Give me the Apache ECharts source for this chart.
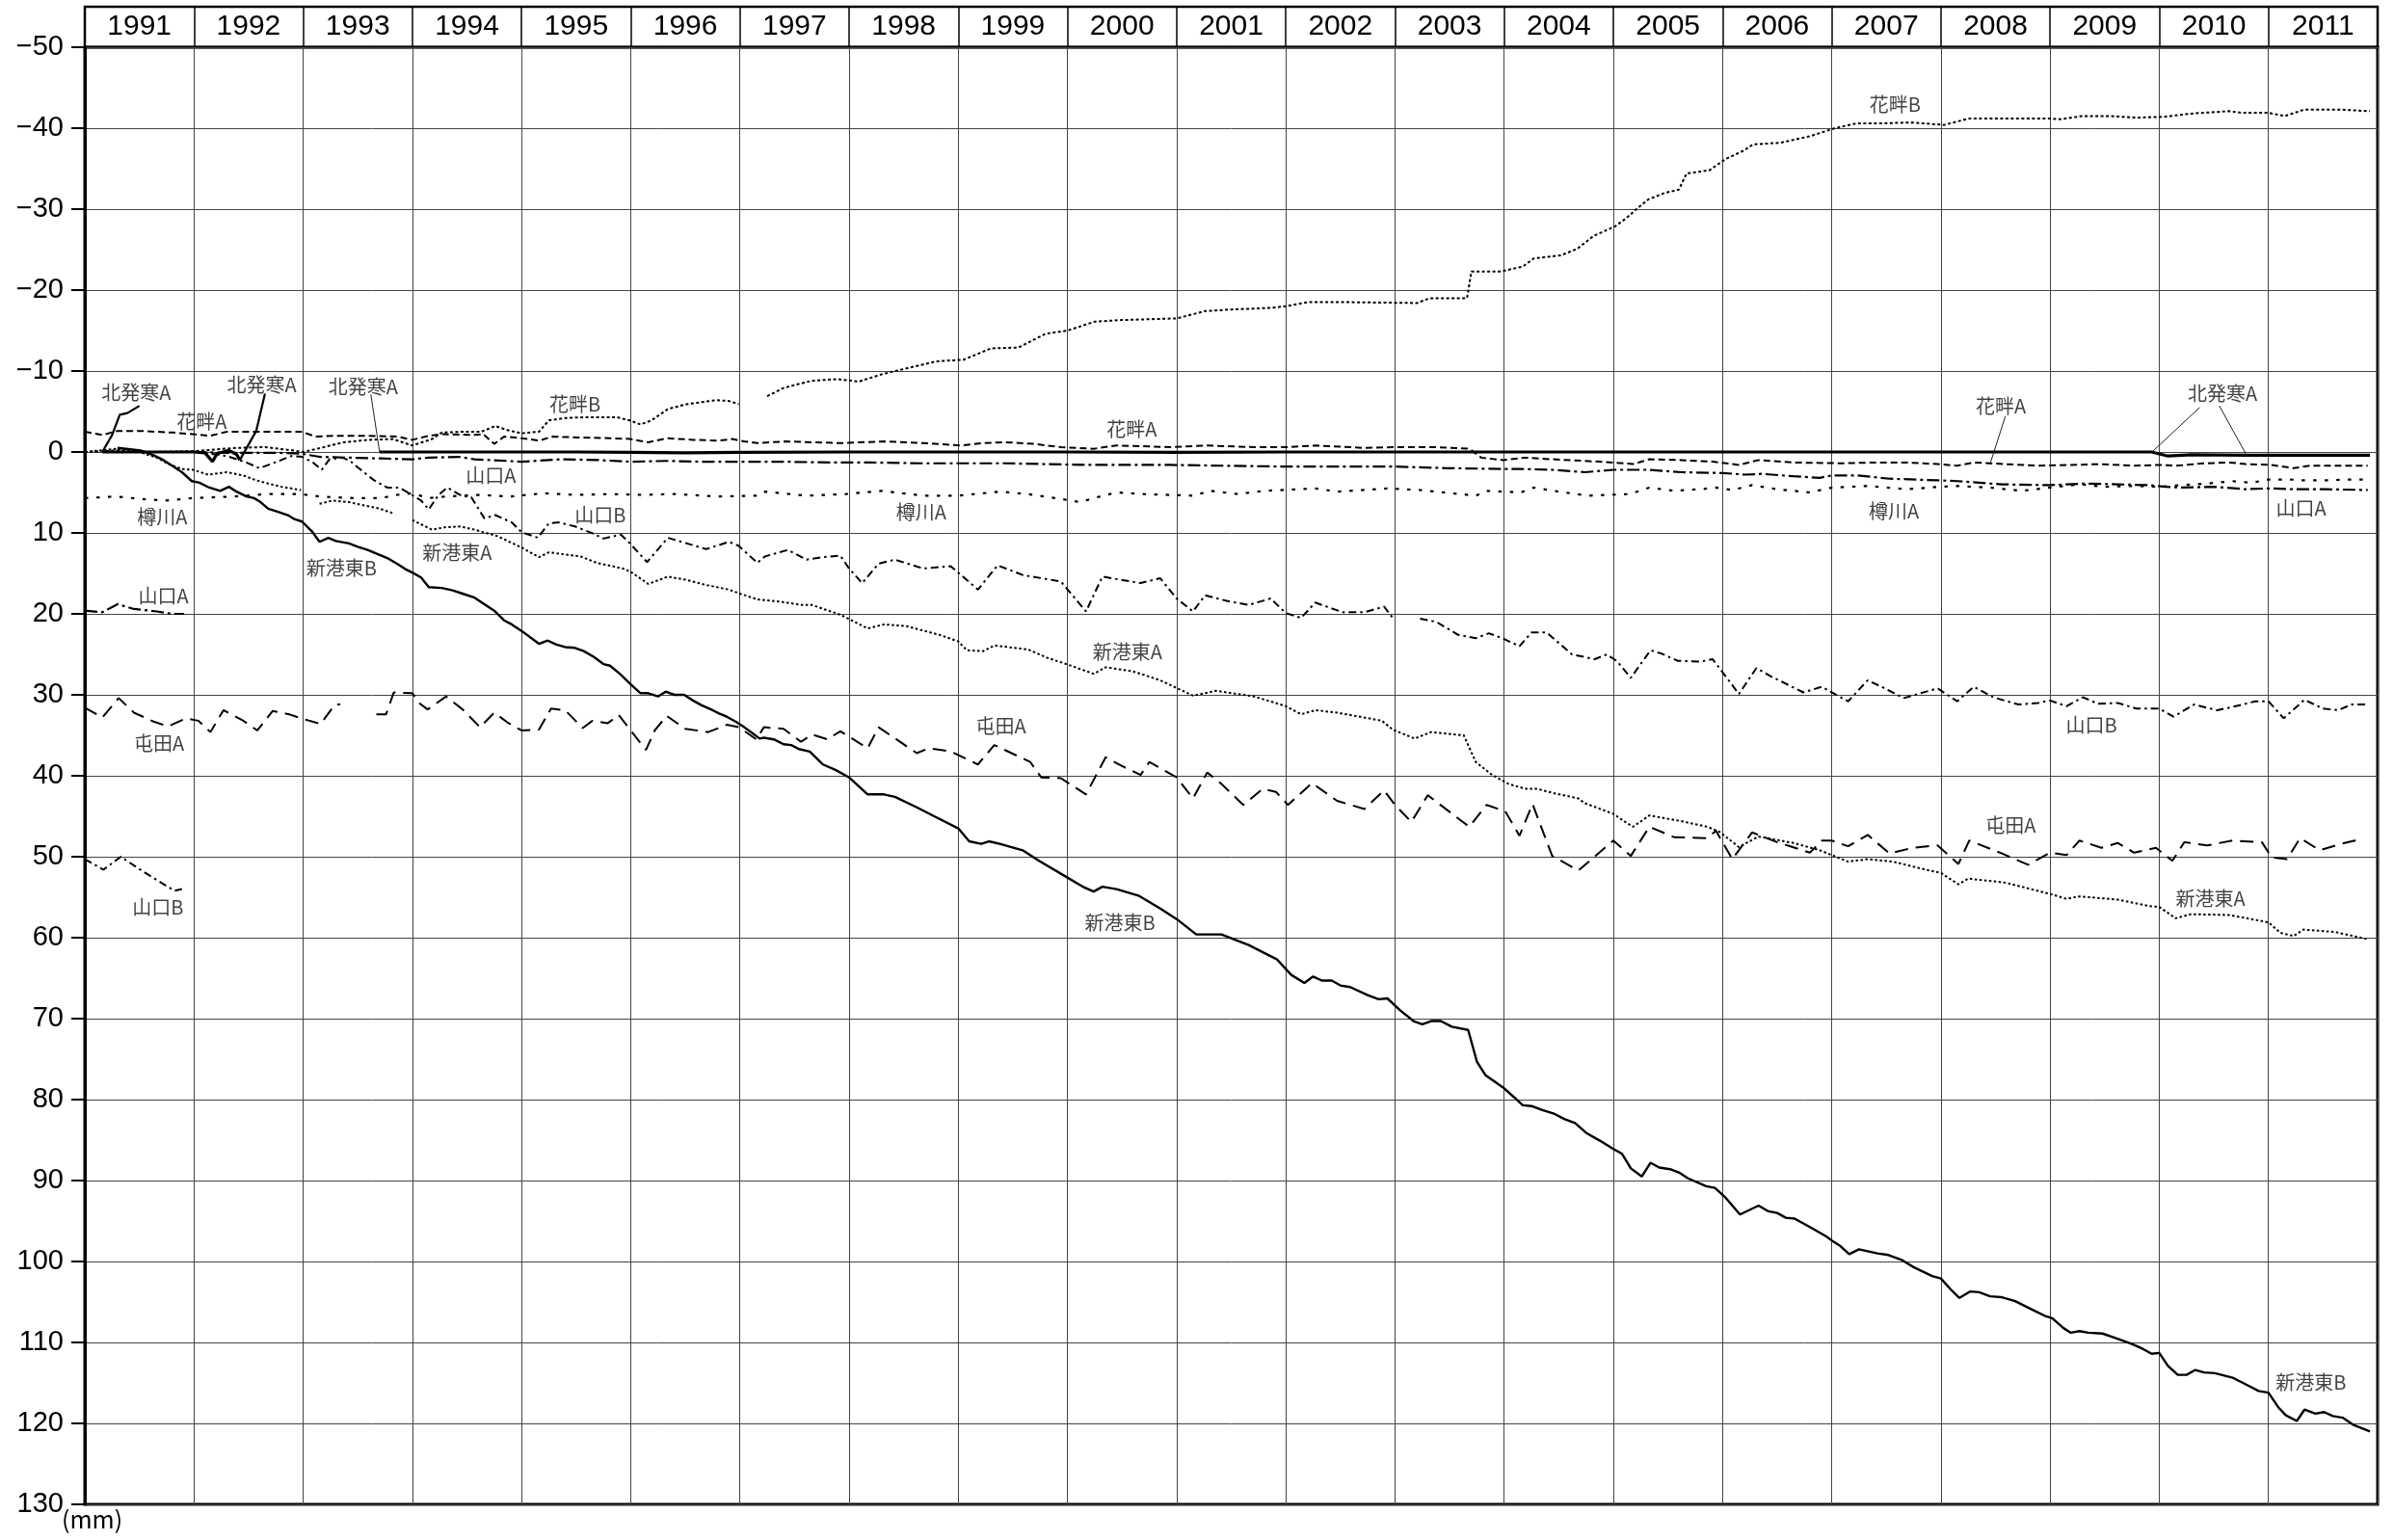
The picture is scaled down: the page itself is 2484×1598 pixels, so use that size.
<!DOCTYPE html>
<html>
<head>
<meta charset="utf-8">
<script src="https://cdn.jsdelivr.net/npm/echarts/dist/echarts.min.js"></script>
<style>
html,body{margin:0;padding:0;background:#fff;}
#chart{width:2484px;height:1598px;}
</style>
</head>
<body>
<div id="chart"></div>
<script>
// Year columns shown in the header band
const YEARS = ['1991','1992','1993','1994','1995','1996','1997','1998','1999','2000',
               '2001','2002','2003','2004','2005','2006','2007','2008','2009','2010','2011'];

// Cumulative settlement (mm) at each benchmark, [decimal year, value]; null = gap in record
const SHINKO_B = [[1991.30,-0.5],[1991.51,-0.2],[1991.63,0.4],[1991.72,1.0],[1991.80,1.7],[1991.89,2.5],[1991.98,3.6],[1992.05,3.8],[1992.14,4.4],[1992.24,4.8],[1992.32,4.3],[1992.39,4.9],[1992.48,5.5],[1992.55,5.7],[1992.61,6.2],[1992.68,7.0],[1992.77,7.4],[1992.86,7.8],[1992.92,8.3],[1992.99,8.6],[1993.08,9.8],[1993.15,11.1],[1993.23,10.6],[1993.30,11.0],[1993.42,11.3],[1993.50,11.7],[1993.59,12.1],[1993.68,12.6],[1993.77,13.1],[1993.86,13.8],[1993.94,14.5],[1994.00,14.9],[1994.08,15.5],[1994.15,16.7],[1994.27,16.8],[1994.37,17.1],[1994.46,17.5],[1994.57,18.0],[1994.66,18.8],[1994.75,19.6],[1994.84,20.8],[1994.91,21.3],[1995.00,22.1],[1995.07,22.8],[1995.16,23.7],[1995.24,23.3],[1995.32,23.8],[1995.40,24.1],[1995.49,24.2],[1995.57,24.6],[1995.66,25.3],[1995.75,26.2],[1995.81,26.4],[1995.90,27.4],[1996.00,28.7],[1996.09,29.8],[1996.16,29.8],[1996.25,30.2],[1996.32,29.6],[1996.40,30.0],[1996.49,30.0],[1996.57,30.7],[1996.65,31.3],[1996.75,31.9],[1996.81,32.3],[1996.88,32.7],[1996.96,33.3],[1997.04,34.0],[1997.12,34.8],[1997.18,35.4],[1997.22,35.3],[1997.31,35.5],[1997.40,36.1],[1997.47,36.2],[1997.54,36.7],[1997.64,37.0],[1997.76,38.6],[1997.88,39.3],[1998.00,40.2],[1998.17,42.3],[1998.32,42.3],[1998.42,42.6],[1998.62,43.9],[1998.78,45.0],[1999.00,46.5],[1999.10,48.1],[1999.21,48.4],[1999.28,48.1],[1999.38,48.4],[1999.59,49.2],[1999.74,50.5],[1999.94,52.1],[2000.14,53.7],[2000.24,54.3],[2000.32,53.7],[2000.45,54.0],[2000.65,54.8],[2000.85,56.4],[2001.00,57.7],[2001.18,59.6],[2001.28,59.6],[2001.41,59.6],[2001.66,60.9],[2001.92,62.7],[2002.05,64.6],[2002.17,65.6],[2002.25,64.8],[2002.33,65.3],[2002.42,65.3],[2002.50,65.9],[2002.59,66.1],[2002.75,67.1],[2002.85,67.6],[2002.93,67.5],[2003.05,69.0],[2003.17,70.3],[2003.25,70.7],[2003.33,70.3],[2003.42,70.3],[2003.52,71.0],[2003.67,71.4],[2003.75,75.3],[2003.83,77.0],[2003.99,78.5],[2004.09,79.7],[2004.17,80.7],[2004.25,80.8],[2004.35,81.3],[2004.45,81.7],[2004.55,82.4],[2004.65,82.9],[2004.75,84.1],[2004.88,85.1],[2005.00,86.1],[2005.08,86.7],[2005.16,88.5],[2005.26,89.5],[2005.34,87.8],[2005.42,88.4],[2005.52,88.6],[2005.60,89.0],[2005.68,89.7],[2005.85,90.7],[2005.93,90.9],[2006.02,92.0],[2006.16,94.2],[2006.33,93.1],[2006.42,93.8],[2006.50,94.0],[2006.58,94.6],[2006.66,94.7],[2006.82,95.9],[2006.95,96.9],[2007.00,97.4],[2007.08,98.1],[2007.16,99.1],[2007.25,98.5],[2007.42,99.0],[2007.52,99.2],[2007.64,99.8],[2007.75,100.7],[2007.92,101.8],[2008.00,102.1],[2008.10,103.6],[2008.17,104.5],[2008.27,103.7],[2008.35,103.8],[2008.45,104.3],[2008.55,104.4],[2008.68,104.9],[2008.83,105.9],[2008.95,106.7],[2009.02,107.0],[2009.12,108.2],[2009.19,108.8],[2009.27,108.6],[2009.35,108.8],[2009.48,108.9],[2009.61,109.5],[2009.75,110.2],[2009.85,110.8],[2009.93,111.4],[2010.00,111.3],[2010.08,112.9],[2010.17,114.0],[2010.25,114.0],[2010.33,113.4],[2010.41,113.7],[2010.51,113.8],[2010.68,114.4],[2010.81,115.3],[2010.91,116.0],[2011.00,116.2],[2011.09,118.0],[2011.16,119.0],[2011.26,119.7],[2011.33,118.3],[2011.43,118.8],[2011.51,118.6],[2011.59,119.1],[2011.68,119.3],[2011.78,120.2],[2011.93,121.0]];

const SHINKO_A = [[1991.00,0],[1991.15,-0.2],[1991.30,-0.4],[1991.50,0],[1991.66,0.7],[1991.77,1.5],[1991.89,2.1],[1991.99,2.2],[1992.13,2.8],[1992.30,2.5],[1992.45,2.9],[1992.57,3.5],[1992.68,3.9],[1992.80,4.3],[1992.98,4.7],null,
  [1993.15,6.4],[1993.27,6.0],[1993.42,6.2],[1993.56,6.6],[1993.70,7.0],[1993.83,7.6],null,
  [1994.00,8.4],[1994.09,9.0],[1994.18,9.6],[1994.30,9.3],[1994.44,9.2],[1994.57,9.6],[1994.78,10.4],[1995.00,11.8],[1995.16,13.0],[1995.25,12.4],[1995.54,12.9],[1995.69,13.7],[1995.93,14.4],[1996.00,14.8],[1996.16,16.3],[1996.34,15.4],[1996.51,15.8],[1996.68,16.4],[1996.90,17.0],[1997.00,17.5],[1997.16,18.2],[1997.37,18.5],[1997.57,18.9],[1997.66,18.9],[1997.81,19.6],[1997.92,20.1],[1998.17,21.8],[1998.32,21.3],[1998.52,21.5],[1998.83,22.6],[1999.00,23.4],[1999.08,24.5],[1999.23,24.6],[1999.33,23.9],[1999.64,24.4],[1999.81,25.4],[1999.99,26.2],[2000.24,27.4],[2000.35,26.6],[2000.60,27.1],[2000.85,28.2],[2001.15,30.1],[2001.36,29.5],[2001.71,30.2],[2002.00,31.4],[2002.14,32.4],[2002.27,31.9],[2002.47,32.2],[2002.88,33.2],[2002.98,34.3],[2003.18,35.4],[2003.33,34.6],[2003.63,35.0],[2003.74,38.3],[2003.89,39.9],[2004.04,41.0],[2004.19,41.6],[2004.30,41.6],[2004.44,42.1],[2004.68,42.8],[2004.74,43.4],[2005.00,44.7],[2005.12,45.8],[2005.18,46.3],[2005.33,44.9],[2005.62,45.6],[2005.86,46.3],[2005.97,46.9],[2006.15,48.8],[2006.33,47.5],[2006.65,48.3],[2006.89,49.2],[2007.15,50.6],[2007.33,50.3],[2007.56,50.6],[2007.83,51.5],[2008.00,52.0],[2008.16,53.4],[2008.25,52.7],[2008.59,53.2],[2009.00,54.6],[2009.15,55.2],[2009.27,54.9],[2009.62,55.3],[2009.91,56.1],[2010.00,56.2],[2010.15,57.6],[2010.29,57.1],[2010.64,57.2],[2011.00,58.1],[2011.11,59.4],[2011.23,59.8],[2011.32,59.0],[2011.61,59.3],[2011.91,60.2]];

const HANA_B = [[1991.00,0],[1991.30,-0.2],[1991.60,0],[1992.00,-0.1],[1992.38,-0.5],[1992.65,-0.6],[1992.90,-0.2],[1993.00,0],[1993.19,-0.6],[1993.37,-1.2],[1993.60,-1.5],[1993.82,-1.6],[1994.00,-0.8],[1994.18,-1.6],[1994.27,-2.4],[1994.46,-2.5],[1994.63,-2.5],[1994.76,-3.2],[1994.87,-2.7],[1995.00,-2.3],[1995.16,-2.5],[1995.25,-3.9],[1995.40,-4.2],[1995.60,-4.3],[1995.87,-4.3],[1995.99,-3.9],[1996.09,-3.4],[1996.19,-3.9],[1996.34,-5.3],[1996.51,-5.9],[1996.78,-6.4],[1996.90,-6.3],[1996.99,-5.9],null,
  [1997.25,-6.9],[1997.40,-7.9],[1997.51,-8.3],[1997.66,-8.8],[1997.89,-9.0],[1998.09,-8.7],[1998.30,-9.6],[1998.55,-10.4],[1998.80,-11.2],[1999.05,-11.4],[1999.30,-12.8],[1999.55,-12.9],[1999.80,-14.6],[2000.00,-15.0],[2000.25,-16.1],[2000.50,-16.3],[2001.00,-16.5],[2001.26,-17.4],[2001.50,-17.6],[2001.86,-17.8],[2002.00,-18.0],[2002.20,-18.5],[2002.60,-18.5],[2003.20,-18.4],[2003.32,-19.0],[2003.66,-19.0],[2003.70,-22.3],[2003.97,-22.3],[2004.17,-22.9],[2004.27,-23.9],[2004.52,-24.3],[2004.67,-25.1],[2004.82,-26.7],[2005.02,-27.9],[2005.12,-28.9],[2005.22,-30.1],[2005.32,-31.2],[2005.47,-32.0],[2005.60,-32.4],[2005.67,-34.4],[2005.88,-34.8],[2006.03,-36.2],[2006.19,-37.2],[2006.28,-38.0],[2006.53,-38.2],[2006.80,-39.0],[2007.03,-40.0],[2007.23,-40.6],[2007.48,-40.6],[2007.73,-40.7],[2008.03,-40.4],[2008.26,-41.2],[2008.99,-41.2],[2009.10,-41.1],[2009.29,-41.5],[2009.54,-41.5],[2009.79,-41.3],[2010.04,-41.4],[2010.29,-41.8],[2010.64,-42.1],[2010.75,-41.9],[2011.00,-41.9],[2011.15,-41.5],[2011.33,-42.3],[2011.65,-42.3],[2011.93,-42.1]];

const HANA_A = [[1991.00,-2.5],[1991.16,-2.1],[1991.30,-2.6],[1991.51,-2.6],[1991.80,-2.4],[1991.99,-2.2],[1992.15,-2.0],[1992.30,-2.5],[1992.48,-2.5],[1992.68,-2.5],[1992.98,-2.5],[1993.12,-1.9],[1993.27,-2.0],[1993.56,-2.0],[1993.86,-1.9],[1994.00,-1.5],[1994.15,-2.0],[1994.28,-2.2],[1994.57,-2.1],[1994.65,-2.2],[1994.75,-1.0],[1994.84,-1.9],[1995.00,-1.7],[1995.16,-1.4],[1995.28,-1.9],[1995.51,-1.8],[1995.81,-1.7],[1996.00,-1.6],[1996.16,-1.2],[1996.34,-1.7],[1996.57,-1.5],[1996.81,-1.4],[1996.93,-1.6],[1997.04,-1.3],[1997.16,-1.1],[1997.41,-1.3],[1997.66,-1.2],[1997.92,-1.1],[1998.32,-1.3],[1998.68,-1.1],[1999.03,-0.8],[1999.23,-1.1],[1999.43,-1.2],[1999.69,-1.0],[1999.94,-0.6],[2000.24,-0.4],[2000.45,-0.8],[2000.95,-0.6],[2001.26,-0.8],[2001.71,-0.6],[2002.02,-0.6],[2002.27,-0.8],[2002.72,-0.5],[2002.98,-0.6],[2003.38,-0.6],[2003.68,-0.4],[2003.79,0.7],[2003.99,1.0],[2004.19,0.7],[2004.44,0.9],[2004.74,1.1],[2005.00,1.3],[2005.18,1.5],[2005.33,0.9],[2005.62,1.0],[2005.91,1.2],[2006.15,1.6],[2006.33,1.0],[2006.65,1.3],[2007.09,1.4],[2007.39,1.3],[2007.68,1.3],[2007.97,1.5],[2008.15,1.7],[2008.30,1.3],[2008.59,1.5],[2008.89,1.7],[2009.18,1.6],[2009.47,1.5],[2009.77,1.7],[2010.00,1.6],[2010.15,1.7],[2010.41,1.4],[2010.65,1.3],[2010.79,1.5],[2011.03,1.6],[2011.23,2.0],[2011.38,1.7],[2011.67,1.7],[2011.91,1.7]];

const TARU_A = [[1991.00,5.7],[1991.28,5.5],[1991.51,5.8],[1991.74,6.0],[1991.99,5.7],[1992.36,5.5],[1992.68,5.2],[1992.98,5.2],[1993.15,5.5],[1993.47,5.7],[1993.71,5.7],[1993.86,5.3],[1994.00,5.1],[1994.15,5.7],[1994.30,5.5],[1994.60,5.3],[1994.90,5.5],[1995.20,5.1],[1995.50,5.3],[1995.80,5.2],[1996.10,5.3],[1996.40,5.2],[1996.80,5.5],[1997.16,5.4],[1997.23,4.9],[1997.61,5.4],[1997.97,5.2],[1998.30,4.8],[1998.68,5.4],[1999.00,5.4],[1999.38,4.9],[1999.64,5.2],[1999.89,5.7],[2000.12,6.2],[2000.24,5.7],[2000.45,5.0],[2000.70,5.2],[2001.15,5.4],[2001.31,4.8],[2001.56,5.2],[2001.81,4.8],[2002.27,4.5],[2002.47,4.9],[2002.93,4.5],[2003.23,4.7],[2003.74,5.4],[2003.84,4.8],[2004.15,5.0],[2004.27,4.4],[2004.50,4.9],[2004.77,5.4],[2005.15,5.2],[2005.33,4.4],[2005.56,4.8],[2005.80,4.6],[2005.94,4.4],[2006.09,4.7],[2006.27,4.1],[2006.50,4.6],[2006.80,5.0],[2007.00,4.4],[2007.33,4.2],[2007.68,4.6],[2008.00,4.3],[2008.15,4.2],[2008.45,4.4],[2008.74,4.8],[2009.00,4.4],[2009.27,4.0],[2009.50,4.3],[2009.77,4.2],[2010.00,4.3],[2010.20,4.1],[2010.44,3.9],[2010.67,3.6],[2010.85,3.8],[2011.00,3.4],[2011.20,3.4],[2011.32,3.5],[2011.52,3.5],[2011.73,3.4],[2011.91,3.4]];

const YAMA_A = [[1991.00,19.6],[1991.16,19.8],[1991.30,18.8],[1991.45,19.4],[1991.66,19.7],[1991.80,20.0],[1991.91,20.0],null,
  [1992.00,0],[1992.30,0.1],[1992.50,0.1],[1992.75,0.1],[1992.98,0.2],[1993.15,0.6],[1993.42,0.7],[1993.71,0.8],[1994.00,0.9],[1994.15,0.7],[1994.43,0.6],[1994.57,0.9],[1995.00,1.2],[1995.37,0.9],[1995.70,1.0],[1996.00,1.2],[1996.34,1.1],[1996.63,1.2],[1997.00,1.2],[1997.40,1.2],[1997.81,1.3],[1998.20,1.3],[1998.68,1.4],[1999.43,1.4],[2000.19,1.6],[2000.95,1.6],[2001.46,1.7],[2001.96,1.8],[2002.47,1.8],[2002.98,1.8],[2003.48,2.0],[2003.99,2.1],[2004.15,2.1],[2004.44,2.2],[2004.74,2.5],[2005.00,2.2],[2005.33,2.2],[2005.62,2.5],[2006.00,2.6],[2006.21,2.8],[2006.36,2.7],[2006.65,3.0],[2006.89,3.2],[2007.00,2.9],[2007.24,2.9],[2007.53,3.3],[2007.97,3.5],[2008.15,3.6],[2008.45,3.9],[2008.56,4.0],[2009.00,4.1],[2009.33,3.9],[2009.62,4.0],[2009.91,4.1],[2010.06,4.3],[2010.20,4.4],[2010.50,4.3],[2010.79,4.6],[2011.00,4.5],[2011.23,4.6],[2011.52,4.6],[2011.91,4.7]];

const YAMA_B = [[1991.00,50.3],[1991.17,51.6],[1991.33,50.0],[1991.53,51.8],[1991.82,54.2],[1991.89,54.0],null,
  [1992.00,0],[1992.15,0.2],[1992.30,0.5],[1992.48,1.3],[1992.60,2.0],[1992.74,1.3],[1992.89,0.5],[1992.99,0.6],[1993.09,1.3],[1993.17,2.2],[1993.24,0.9],[1993.36,0.7],[1993.43,1.1],[1993.50,1.9],[1993.65,3.5],[1993.77,4.4],[1993.88,4.4],[1993.97,5.1],[1994.08,6.0],[1994.15,7.1],[1994.24,5.3],[1994.32,4.4],[1994.45,5.4],[1994.54,5.6],[1994.66,8.2],[1994.76,7.8],[1994.91,8.7],[1995.00,9.9],[1995.15,10.6],[1995.25,8.8],[1995.34,8.7],[1995.49,9.2],[1995.66,10.1],[1995.75,10.7],[1995.91,10.2],[1996.00,11.4],[1996.15,13.6],[1996.34,10.6],[1996.49,11.2],[1996.69,12.0],[1996.90,11.1],[1996.99,11.6],[1997.16,13.7],[1997.23,12.9],[1997.44,12.1],[1997.61,13.3],[1997.76,13.0],[1997.92,12.8],[1998.00,14.4],[1998.12,16.2],[1998.27,13.8],[1998.42,13.3],[1998.68,14.4],[1998.93,14.1],[1999.00,14.9],[1999.18,17.0],[1999.36,14.0],[1999.59,15.2],[1999.94,16.0],[2000.17,19.7],[2000.32,15.4],[2000.45,15.7],[2000.67,16.2],[2000.85,15.6],[2001.00,18.1],[2001.15,19.7],[2001.26,17.7],[2001.46,18.4],[2001.66,18.9],[2001.86,18.1],[2002.00,19.9],[2002.14,20.5],[2002.27,18.6],[2002.52,19.8],[2002.72,19.8],[2002.90,19.1],[2002.98,20.5],null,
  [2003.23,20.6],[2003.38,21.0],[2003.58,22.6],[2003.74,23.0],[2003.86,22.4],[2004.00,23.1],[2004.14,24.0],[2004.25,22.3],[2004.39,22.3],[2004.62,25.0],[2004.83,25.6],[2004.94,25.0],[2005.03,25.8],[2005.16,27.9],[2005.34,24.5],[2005.44,24.9],[2005.59,25.8],[2005.80,25.9],[2005.91,25.6],[2006.00,27.2],[2006.15,29.9],[2006.31,26.7],[2006.44,27.7],[2006.74,29.7],[2006.91,29.0],[2007.00,29.7],[2007.15,30.8],[2007.33,28.2],[2007.47,29.1],[2007.66,30.4],[2007.97,29.2],[2008.15,30.8],[2008.30,29.0],[2008.48,30.3],[2008.71,31.2],[2008.89,31.0],[2009.00,30.7],[2009.15,31.4],[2009.30,30.3],[2009.44,31.1],[2009.62,31.0],[2009.79,31.7],[2010.00,31.7],[2010.13,32.7],[2010.32,31.2],[2010.53,31.9],[2010.67,31.5],[2010.88,30.8],[2011.00,30.8],[2011.14,32.9],[2011.33,30.6],[2011.50,31.7],[2011.64,31.9],[2011.76,31.2],[2011.91,31.2]];

const TONDEN_A = [[1991.00,31.6],[1991.16,32.8],[1991.31,30.4],[1991.45,32.2],[1991.63,33.3],[1991.76,33.9],[1991.93,32.9],[1992.04,33.2],[1992.15,34.6],[1992.27,31.9],[1992.44,33.1],[1992.58,34.4],[1992.72,32.0],[1992.87,32.4],[1992.98,32.9],[1993.16,33.6],[1993.29,31.2],[1993.34,31.2],null,
  [1993.67,32.4],[1993.76,32.4],[1993.83,29.7],[1994.00,29.8],[1994.07,31.1],[1994.14,31.8],[1994.31,30.2],[1994.46,31.8],[1994.62,34.0],[1994.75,32.2],[1994.87,33.4],[1995.00,34.4],[1995.16,34.3],[1995.27,31.7],[1995.40,31.9],[1995.56,34.1],[1995.65,33.2],[1995.79,33.5],[1995.89,32.5],[1996.00,34.4],[1996.14,36.8],[1996.22,34.4],[1996.33,32.6],[1996.50,34.2],[1996.71,34.6],[1996.88,33.7],[1996.99,34.0],[1997.15,35.5],[1997.22,34.0],[1997.40,34.2],[1997.56,35.8],[1997.66,34.9],[1997.80,35.5],[1997.92,34.5],[1998.17,36.6],[1998.27,34.0],[1998.62,37.2],[1998.73,36.6],[1998.93,37.0],[1999.18,38.6],[1999.33,36.2],[1999.66,38.3],[1999.76,40.2],[1999.94,40.3],[2000.17,42.3],[2000.35,37.7],[2000.50,38.8],[2000.67,39.9],[2000.75,38.3],[2001.00,40.2],[2001.15,42.8],[2001.28,39.6],[2001.41,41.0],[2001.61,43.6],[2001.79,41.6],[2001.91,42.0],[2002.02,43.6],[2002.24,40.9],[2002.47,43.1],[2002.72,44.1],[2002.90,41.8],[2003.00,43.6],[2003.15,45.7],[2003.30,42.4],[2003.68,46.3],[2003.84,43.6],[2004.01,44.4],[2004.14,47.4],[2004.26,43.5],[2004.44,49.9],[2004.68,51.7],[2005.00,48.0],[2005.16,49.9],[2005.33,46.3],[2005.56,47.6],[2005.86,47.7],[2005.94,46.8],[2006.09,50.3],[2006.27,47.0],[2006.50,48.2],[2006.80,49.5],[2006.91,48.0],[2007.00,48.0],[2007.15,48.7],[2007.33,47.3],[2007.53,49.6],[2007.74,48.9],[2007.97,48.6],[2008.16,50.9],[2008.26,48.0],[2008.56,49.6],[2008.80,51.0],[2009.00,49.5],[2009.15,49.8],[2009.27,48.0],[2009.47,48.9],[2009.62,48.3],[2009.77,49.5],[2009.97,48.9],[2010.12,50.5],[2010.23,48.2],[2010.44,48.6],[2010.67,48.0],[2010.94,48.2],[2011.03,50.1],[2011.17,50.3],[2011.29,47.7],[2011.47,49.2],[2011.67,48.4],[2011.79,48.0],[2011.85,48.2]];

const KITA_A = [[1991.16,0],[1991.40,0],[1991.70,0],[1992.00,0],[1992.10,0.1],[1992.17,1.2],[1992.21,0.2],[1992.32,-0.2],[1992.39,0.3],[1992.42,1.0],null,
  [1993.70,0],[1994.50,0],[1995.50,0],[1996.00,0.05],[1996.50,0.1],[1997.00,0.05],[1998.00,0],[1999.00,0],[2000.00,0],[2001.00,0.05],[2002.00,0],[2003.00,0],[2004.00,0],[2005.00,0],[2006.00,0],[2007.00,0],[2008.00,0],[2009.00,0],[2009.93,0],[2010.08,0.5],[2010.30,0.35],[2010.80,0.4],[2011.93,0.4]];

// Station names drawn beside the curves: [year, mm, text]
const NAME_LABELS = [
  [1991.47,-7.3,'北発寒A'],[1992.62,-8.3,'北発寒A'],[1993.55,-8.1,'北発寒A'],[2010.58,-7.2,'北発寒A'],
  [1992.07,-3.75,'花畔A'],[2000.59,-2.8,'花畔A'],[2008.55,-5.7,'花畔A'],
  [1995.49,-5.9,'花畔B'],[2007.58,-42.9,'花畔B'],
  [1991.71,8.0,'樽川A'],[1998.66,7.4,'樽川A'],[2007.57,7.3,'樽川A'],
  [1991.72,17.8,'山口A'],[1994.72,2.9,'山口A'],[2011.30,7.0,'山口A'],
  [1991.67,56.2,'山口B'],[1995.72,7.8,'山口B'],[2009.38,33.7,'山口B'],
  [1991.68,36.0,'屯田A'],[1999.39,33.9,'屯田A'],[2008.64,46.1,'屯田A'],
  [1994.41,12.4,'新港東A'],[2000.55,24.7,'新港東A'],[2010.47,55.2,'新港東A'],
  [1993.35,14.3,'新港東B'],[2000.48,58.2,'新港東B'],[2011.39,114.9,'新港東B']
];

// Leader lines from a name to its curve
const LEADERS_BOLD = [
  [[1991.16,0],[1991.25,-2.1],[1991.32,-4.6],[1991.39,-4.8],[1991.50,-5.7]],
  [[1992.42,1.0],[1992.57,-2.6],[1992.65,-7.2]]
];
const LEADERS_THIN = [
  [[1993.62,-7.1],[1993.70,0]],
  [[2008.59,-4.4],[2008.45,1.5]],
  [[2010.37,-5.5],[2009.93,0.05]],
  [[2010.55,-5.7],[2010.80,0.4]]
];

const STATIONS = [
  {name:'新港東B', data:SHINKO_B},
  {name:'新港東A', data:SHINKO_A},
  {name:'花畔B',   data:HANA_B},
  {name:'花畔A',   data:HANA_A},
  {name:'樽川A',   data:TARU_A},
  {name:'山口A',   data:YAMA_A},
  {name:'山口B',   data:YAMA_B},
  {name:'屯田A',   data:TONDEN_A},
  {name:'北発寒A', data:KITA_A}
];

// Line pattern per station
const LINE_LOOK = {
  '新港東B': {width:2.4, type:'solid'},
  '新港東A': {width:2,   type:[2.5,2.5]},
  '花畔B':   {width:2,   type:[3,2.5]},
  '花畔A':   {width:2,   type:[7,4]},
  '樽川A':   {width:2.2, type:[3.5,8.5]},
  '山口A':   {width:2.2, type:[13,4,3,4]},
  '山口B':   {width:2,   type:[8,4,2.5,4]},
  '屯田A':   {width:2,   type:[14,8]},
  '北発寒A': {width:3.2, type:'solid'}
};

function splitRuns(points) {
  const runs = [[]];
  points.forEach(p => { if (p === null) runs.push([]); else runs[runs.length - 1].push(p); });
  return runs.filter(r => r.length > 1);
}

const series = [];
STATIONS.forEach(st => {
  const look = LINE_LOOK[st.name];
  splitRuns(st.data).forEach(run => {
    series.push({
      type:'line', name:st.name, xAxisIndex:0, yAxisIndex:0, data:run,
      symbol:'none', showSymbol:false, silent:true, animation:false, z:3,
      lineStyle:{color:'#000', width:look.width, type:look.type}
    });
  });
});
LEADERS_BOLD.forEach(run => series.push({
  type:'line', xAxisIndex:0, yAxisIndex:0, data:run, symbol:'none', silent:true, animation:false, z:3,
  lineStyle:{color:'#000', width:2.2}
}));
LEADERS_THIN.forEach(run => series.push({
  type:'line', xAxisIndex:0, yAxisIndex:0, data:run, symbol:'none', silent:true, animation:false, z:3,
  lineStyle:{color:'#222', width:1}
}));
series.push({
  type:'scatter', xAxisIndex:0, yAxisIndex:0, data:NAME_LABELS, symbolSize:1, silent:true, animation:false, z:5,
  itemStyle:{color:'rgba(0,0,0,0)'},
  label:{show:true, position:'inside', formatter:p => p.value[2], color:'#111', fontSize:20,
         fontFamily:'"Noto Sans CJK JP", "Noto Sans", sans-serif'}
});

const AXIS_FONT = '"Liberation Sans Narrow", "Liberation Sans", Arial, sans-serif';

const option = {
  backgroundColor:'#fff',
  animation:false,
  grid:[
    {left:88, right:17, top:49, bottom:37, show:true, borderColor:'#000', borderWidth:3, outerBoundsMode:'none'},
    {left:88, right:17, top:7, height:42, show:true, borderColor:'#000', borderWidth:2.5, outerBoundsMode:'none'}
  ],
  xAxis:[
    {type:'value', gridIndex:0, min:1991, max:2012, interval:1,
     axisLine:{show:false}, axisTick:{show:false}, axisLabel:{show:false},
     splitLine:{show:true, lineStyle:{color:'#444', width:1}}},
    {type:'category', gridIndex:1, data:YEARS, boundaryGap:true, position:'bottom',
     axisLine:{show:false}, axisTick:{show:false},
     axisLabel:{show:true, inside:true, interval:0, margin:21, verticalAlign:'middle',
                fontSize:30, color:'#000', fontFamily:AXIS_FONT},
     splitLine:{show:true, interval:0, lineStyle:{color:'#000', width:1.5}}}
  ],
  yAxis:[
    {type:'value', gridIndex:0, inverse:true, min:-50, max:130, interval:10,
     axisLine:{show:true, lineStyle:{color:'#000', width:3}},
     axisTick:{show:true, inside:false, length:14, lineStyle:{color:'#000', width:2}},
     axisLabel:{margin:22, fontSize:29, color:'#000', fontFamily:AXIS_FONT,
                formatter:v => (v < 0 ? '\u2212' + (-v) : String(v))},
     splitLine:{show:true, lineStyle:{color:'#444', width:1}}},
    {type:'value', gridIndex:1, min:0, max:1, show:false}
  ],
  graphic:[
    {type:'text', left:64, top:1564, silent:true,
     style:{text:'(mm)', fontSize:25, fill:'#000', fontFamily:'"Noto Sans CJK JP", sans-serif'}}
  ],
  series:series
};

const chart = echarts.init(document.getElementById('chart'), null, {renderer:'canvas'});
chart.setOption(option);
</script>
</body>
</html>
